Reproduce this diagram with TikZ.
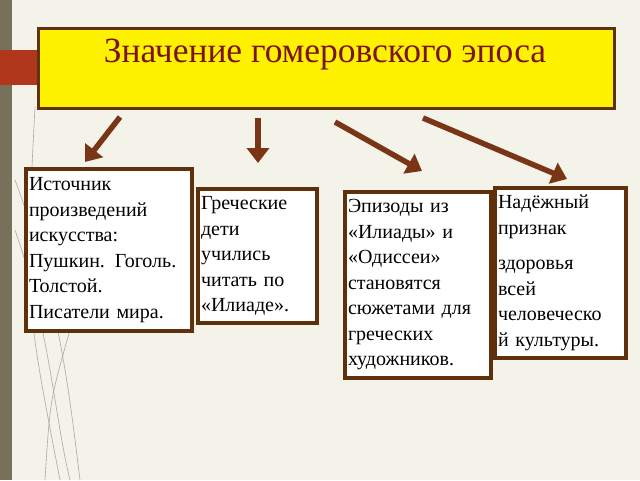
\documentclass[tikz,border=0pt]{standalone}
\usepackage{fontspec}
\setmainfont{Liberation Serif}
\usetikzlibrary{arrows.meta}
\definecolor{bg}{HTML}{F3F3EA}
\definecolor{bar}{HTML}{77705A}
\definecolor{redbar}{HTML}{B0361C}
\definecolor{bord}{HTML}{5E300C}
\definecolor{arr}{HTML}{7A3516}
\definecolor{ttl}{HTML}{7A1414}
\tikzset{
  box/.style={draw=bord,line width=4pt,fill=white,anchor=north west,align=left,inner sep=3pt,
    font=\fontsize{20}{25.5}\selectfont},
  arrw/.style={draw=arr,line width=5.5pt,-{Triangle[length=15pt,width=22pt]}},
  deco/.style={draw=bar!60,line width=0.6pt}
}
\begin{document}
\begin{tikzpicture}[x=1pt,y=-1pt]
\fill[bg] (0,0) rectangle (640,480);
\useasboundingbox (0,0) rectangle (640,480);
\fill[bar] (0,0) rectangle (12,480);
\fill[redbar] (0,50) rectangle (37,85);
\draw[deco] (35,107) .. controls (25,300) .. (60,480);
\draw[deco] (15,180) .. controls (60,300) and (70,400) .. (80,480);
\draw[deco] (15,230) .. controls (50,330) and (55,420) .. (70,480);
\draw[deco] (70,330) .. controls (50,400) .. (45,480);
\node[draw=bord,line width=3pt,fill=yellow,minimum width=576pt,minimum height=80pt,anchor=north west] (t) at (37,27) {};
\node[text=ttl,font=\fontsize{35.5}{38}\selectfont] (tt) at (325,55) {Значение гомеровского эпоса};
\node[box,text width=160pt,minimum height=162pt] (b1) at (24,167) {Источник\\произведений\\искусства:\\Пушкин. Гоголь.\\Толстой.\\Писатели мира.};
\node[box,text width=113pt,minimum height=134pt] (b2) at (196,187) {Греческие\\дети\\учились\\читать по\\«Илиаде».};
\node[box,text width=140pt,minimum height=186pt] (b3) at (343,190) {Эпизоды из\\«Илиады» и\\«Одиссеи»\\становятся\\сюжетами для\\греческих\\художников.};
\node[box,text width=125pt,minimum height=170pt] (b4) at (493,186) {Надёжный\\признак\\[10pt]здоровья\\всей\\человеческо\\й культуры.};
\coordinate (a1) at (120,117); \coordinate (e1) at (85,162);
\coordinate (a2) at (258,118); \coordinate (e2) at (258,163);
\coordinate (a3) at (335,122); \coordinate (e3) at (422,171);
\coordinate (a4) at (423,118); \coordinate (e4) at (567,179);
\draw[arrw] (a1) -- (e1);
\draw[arrw] (a2) -- (e2);
\draw[arrw] (a3) -- (e3);
\draw[arrw] (a4) -- (e4);
\end{tikzpicture}
\end{document}
